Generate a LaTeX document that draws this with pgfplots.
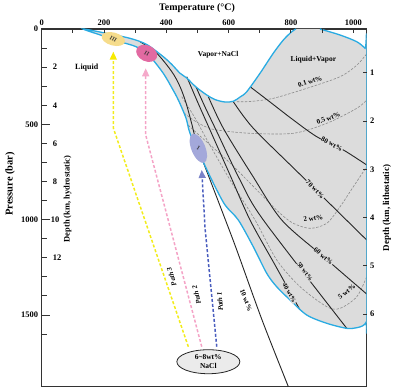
\documentclass[border=0pt]{standalone}
\usepackage{fontspec}
\setmainfont{Liberation Serif}
\usepackage{pgfplots}
\pgfplotsset{compat=1.18}
\usepackage{pgfplotstable}
\usetikzlibrary{arrows.meta,shapes.geometric}
\definecolor{bndc}{HTML}{29ABE2}
\definecolor{reg}{HTML}{DCDCDC}
\definecolor{isod}{HTML}{8A8A8A}
\definecolor{pyel}{HTML}{F2EC1C}
\definecolor{ppink}{HTML}{F4A3C6}
\definecolor{pblue}{HTML}{4A5DBE}
\definecolor{ayel}{HTML}{F7EA00}
\definecolor{apink}{HTML}{F5A9CA}
\definecolor{ablue}{HTML}{7A82C8}
\definecolor{eIII}{HTML}{F6DC8B}
\definecolor{eII}{HTML}{E26AA2}
\definecolor{eI}{HTML}{A3A8DA}
\newcommand{\fs}[1]{\fontsize{#1}{#1}\selectfont}
\begin{document}
\pgfplotstableread{
T P
893 0
957.5 31.5
1011 66.6
1038 101
1043 110
1043 1500
1041 1538
1030 1557
1010 1567
979 1570
915 1543.6
850.6 1500
797 1421
754 1351.6
722 1281
679 1141.9
631 1001.8
588.4 923
551 809
508 661
476 547
463 466.8
438.5 372.4
418 309.5
390 232
347.6 145
305 94.4
251 66.6
198 36.7
132.6 0
198 19.4
283 48.8
337 81.3
390 145
417 185
444 232
465.5 257
495 304
529.7 346
556 370
588.4 383
615 379
636.5 356.7
658 329
700.7 232
743 127.5
775.5 57.7
802.5 14
816 0
}\bnd
\begin{tikzpicture}
\begin{axis}[
  name=main,
  scale only axis, width=325bp, height=357.7bp,
  xmin=0, xmax=1043, ymin=0, ymax=1876, y dir=reverse,
  axis line style={line width=1.2bp, draw=black!80},
  xtick=\empty,
  ytick={0,500,1000,1500},
  minor ytick={100,200,300,400,600,700,800,900,1100,1200,1300,1400,1600},
  ytick pos=left,
  tick align=inside,
  major tick length=8bp, minor tick length=5bp,
  tick style={line width=1bp, black!80},
  scaled ticks=false,
  yticklabel style={font=\bfseries\fs{8.5}, /pgf/number format/assume math mode=true},
  /pgf/number format/set thousands separator={},
  ylabel={Pressure (bar)},
  ylabel style={font=\bfseries\fs{10.5}, at={(axis description cs:-0.0975,0.567)}, anchor=center},
]
% two-phase region
\addplot[fill=reg, draw=none, smooth, tension=0.5] table {\bnd} -- cycle;
% dashed isopleths
\addplot[isod, line width=0.6bp, dash pattern=on 2.5bp off 1.5bp, smooth, tension=0.5] coordinates {(626,381.3) (668.6,380.3) (743.4,363.5) (850.7,311) (957.5,250.2) (1011,190) (1043,130)};
\addplot[isod, line width=0.6bp, dash pattern=on 2.5bp off 1.5bp, smooth, tension=0.5] coordinates {(456.8,440.6) (486.6,477.3) (524.2,511.4) (561.8,529.7) (668.6,547) (807.6,547) (914.9,494.6) (1011.2,415.9) (1043,372.4)};
\addplot[isod, line width=0.6bp, dash pattern=on 2.5bp off 1.5bp, smooth, tension=0.5] coordinates {(469.6,503.5) (508.2,561.2) (604.4,702.8) (700.7,861.8) (765,966.7) (807.6,1019.1) (861.2,1045.3) (914.9,1019.1) (957.5,932) (1000.2,827.1) (1043,722.2)};
\addplot[isod, line width=0.6bp, dash pattern=on 2.5bp off 1.5bp, smooth, tension=0.5] coordinates {(449.4,355.1) (492.1,466.8) (530.6,582.2) (604.4,792) (684.7,1001.8) (754.4,1211.6) (829.1,1351.6) (914.9,1456.5) (957.5,1465) (1011.2,1404.1) (1043,1299.2)};
% solid isopleths
\addplot[black!85, line width=0.9bp, smooth, tension=0.5] coordinates {(315.5,66.6) (369.2,127.5) (418.3,225.5) (444,302.6) (463.2,388) (482.5,503.5) (501.7,624.2) (546.7,818.2) (589.7,1001.8) (626,1159) (707.2,1526.3) (791.6,1876)};
\addplot[black!85, line width=0.9bp, smooth, tension=0.5] coordinates {(465.5,250.2) (501.7,388.1) (540.2,529.7) (604.4,765.8) (668.6,1001.8) (748.9,1237.8) (829.1,1473.8)};
\addplot[black!85, line width=0.9bp, smooth, tension=0.5] coordinates {(495.3,304.2) (524.2,409.1) (559.5,529.7) (636.5,792) (711.3,1001.8) (979,1569.8)};
\addplot[black!85, line width=0.9bp, smooth, tension=0.5] coordinates {(534.8,355.1) (582.9,520.8) (675.1,765.8) (770.4,1001.8) (903.9,1193.8) (1043,1390)};
\addplot[black!85, line width=0.9bp, smooth, tension=0.5] coordinates {(615,381.3) (679.2,520.8) (829.1,762.6) (1043,1106.7)};
\addplot[black!85, line width=0.9bp, smooth, tension=0.5] coordinates {(668.6,302.6) (732.8,382.9) (807.6,477.3) (882.8,564.9) (968.1,634.6) (1043,713.3)};
% boundary
\addplot[bndc, line width=1.3bp, smooth, tension=0.5] table {\bnd};
% paths
\addplot[pyel, line width=1.5bp, dash pattern=on 3bp off 2bp, -{Triangle[length=8bp,width=7bp,color=ayel]}] coordinates {(470.6,1666.3) (229.8,519.3) (229.8,119)};
\addplot[ppink, line width=1.5bp, dash pattern=on 3bp off 2bp, -{Triangle[length=8bp,width=7bp,color=apink]}] coordinates {(513.6,1666.3) (333.8,556) (333.8,206)};
\addplot[pblue, line width=1.5bp, dash pattern=on 3bp off 2bp, -{Triangle[length=8bp,width=7bp,color=ablue]}] coordinates {(561.8,1666.3) (524.2,1045.3) (513.6,739.5)};
% ellipses
\node[ellipse, fill=eIII, minimum width=24bp, minimum height=13bp, inner sep=0, rotate=-15] at (axis cs:229.8,52.5) {};
\node[font=\bfseries\itshape\fs{6}, rotate=-20, text=black!80] at (axis cs:229.8,52.5) {III};
\node[ellipse, fill=eII, minimum width=22bp, minimum height=16bp, inner sep=0, rotate=-25] at (axis cs:337,127.5) {};
\node[font=\bfseries\itshape\fs{6}, rotate=-20, text=black!80] at (axis cs:337,127.5) {II};
\node[ellipse, fill=eI, minimum width=14bp, minimum height=31bp, inner sep=0, rotate=22] at (axis cs:502.7,625.7) {};
\node[font=\bfseries\itshape\fs{6}, rotate=-20, text=black!80] at (axis cs:502.7,625.7) {I};
\node[ellipse, draw=black!85, line width=0.8bp, fill=black!8, minimum width=63bp, minimum height=24bp, inner sep=0, align=center, font=\bfseries\fontsize{7.5}{8.5}\selectfont] at (axis cs:534.8,1745) {6\textasciitilde8wt\%\\NaCl};
% region labels
\node[font=\bfseries\fs{8}] at (axis cs:144.5,203) {Liquid};
\node[font=\bfseries\fs{7.5}] at (axis cs:566,136.4) {Vapor+NaCl};
\node[font=\bfseries\fs{7.5}] at (axis cs:871.8,162.6) {Liquid+Vapor};
% isopleth labels
\node[font=\bfseries\fs{7}, fill=reg, inner sep=0.6bp, rotate=-27] at (axis cs:931,604) {80 wt\%};
\node[font=\bfseries\fs{7}, fill=reg, inner sep=0.6bp, rotate=-45] at (axis cs:877.3,840.7) {70 wt\%};
\node[font=\bfseries\fs{7}, fill=reg, inner sep=0.6bp, rotate=-41] at (axis cs:903.9,1191.6) {60 wt\%};
\node[font=\bfseries\fs{6.5}, fill=reg, inner sep=0.5bp, rotate=-52] at (axis cs:845,1272) {50 wt\%};
\node[font=\bfseries\fs{6.5}, fill=reg, inner sep=0.5bp, rotate=-61] at (axis cs:795,1385) {40 wt\%};
\node[font=\bfseries\fs{7}, rotate=-69] at (axis cs:655.8,1421.4) {10 wt\%};
\node[font=\bfseries\fs{7}, rotate=17] at (axis cs:861.2,276.4) {0.1 wt\%};
\node[font=\bfseries\fs{7}, rotate=20] at (axis cs:920,468.4) {0.5 wt\%};
\node[font=\bfseries\fs{7}, rotate=8] at (axis cs:871.8,992.9) {2 wt\%};
\node[font=\bfseries\fs{7}, rotate=36] at (axis cs:979,1377.9) {5 wt\%};
% path labels
\node[font=\bfseries\itshape\fs{7}, rotate=107] at (axis cs:417,1299.2) {Path 3};
\node[font=\bfseries\itshape\fs{7}, rotate=104] at (axis cs:497,1395.2) {Path 2};
\node[font=\bfseries\itshape\fs{7}, rotate=95] at (axis cs:572.3,1430.3) {Path 1};
% hydrostatic depth
\node[anchor=west, inner sep=0, xshift=11bp, font=\bfseries\fs{8.5}] at (axis cs:0,200) {2};
\node[anchor=west, inner sep=0, xshift=11bp, font=\bfseries\fs{8.5}] at (axis cs:0,400) {4};
\node[anchor=west, inner sep=0, xshift=11bp, font=\bfseries\fs{8.5}] at (axis cs:0,600) {6};
\node[anchor=west, inner sep=0, xshift=11bp, font=\bfseries\fs{8.5}] at (axis cs:0,800) {8};
\node[anchor=west, inner sep=0, xshift=9bp, font=\bfseries\fs{8.5}] at (axis cs:0,1000) {10};
\node[anchor=west, inner sep=0, xshift=11bp, font=\bfseries\fs{8.5}] at (axis cs:0,1200) {12};
\node[font=\bfseries\fs{8.5}, rotate=90] at (axis cs:83,891.7) {Depth (km, hydrostatic)};
\end{axis}
\begin{axis}[
  scale only axis, width=325bp, height=357.7bp,
  xmin=0, xmax=1043, ymin=0.0909, ymax=7.506, y dir=reverse,
  axis line style={draw=none},
  xtick={0,200,...,1000}, minor xtick={100,300,...,900},
  xtick pos=top, xticklabel pos=top,
  ytick={1,...,6}, ytick pos=right, yticklabel pos=right,
  tick align=inside,
  major tick length=4bp, minor tick length=4bp,
  tick style={line width=1bp, black!80},
  scaled ticks=false,
  ticklabel style={font=\bfseries\fs{8.5}, /pgf/number format/assume math mode=true},
  /pgf/number format/set thousands separator={},
  xlabel={Temperature (°C)},
  xlabel style={font=\bfseries\fs{10}, at={(axis description cs:0.478,1.0587)}, anchor=center},
  ylabel={Depth (km, lithostatic)},
  ylabel style={font=\bfseries\fs{9}, at={(axis description cs:1.0625,0.5)}, anchor=center},
]
\end{axis}
\pgfresetboundingbox
\path ([shift={(-41.7bp,-2.3bp)}]main.south west) rectangle ([shift={(27.3bp,29bp)}]main.north east);
\end{tikzpicture}
\end{document}
